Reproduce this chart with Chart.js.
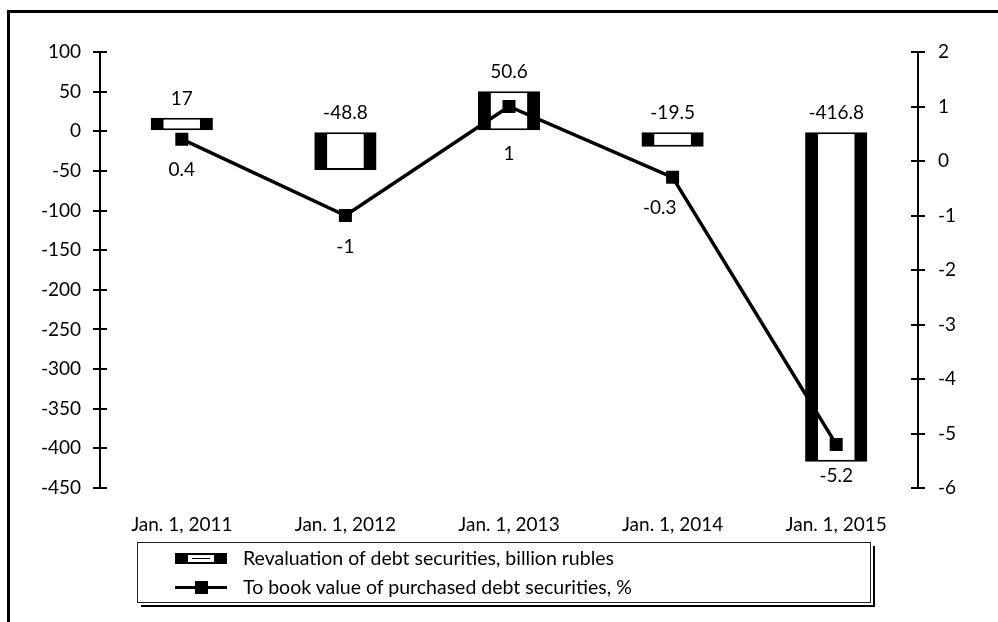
<!DOCTYPE html>
<html>
<head>
<meta charset="utf-8">
<script src="https://cdn.jsdelivr.net/npm/chart.js@4.4.1/dist/chart.umd.min.js"></script>
<style>
  html, body { margin: 0; padding: 0; background: #fff; }
  body { width: 998px; height: 622px; position: relative; overflow: hidden; font-family: Lato, sans-serif; }
  #frame { position: absolute; left: 7px; top: 10px; width: 1100px; height: 700px;
           border-left: 3px solid #000; border-top: 3px solid #000; box-sizing: border-box; }
  #wrap { position: absolute; left: 0; top: 0; width: 998px; height: 622px; }
  #legend { position: absolute; left: 137px; top: 542px; width: 734px; height: 61px; box-sizing: border-box;
            border: 1.5px solid #222; background: #fff;
            box-shadow: 2px 2px 0 0 #fff, 4px 4px 0 0 #000; }
  .item { position: absolute; left: 0; height: 24px; width: 100%; }
  .item .txt { position: absolute; left: 105px; top: 0; font-size: 19.5px; line-height: 24px; color: #000; white-space: nowrap; }
  .sw { position: absolute; left: 37px; }
  .sw-bar { top: 7px; width: 52px; height: 11px; background: #000; }
  .sw-bar::after { content: ""; position: absolute; left: 13px; top: 2px; width: 26px; height: 7px; background: #fff; }
  .sw-bar::before { content: ""; position: absolute; left: 17px; top: 5px; width: 18px; height: 1px; background: #000; z-index: 2; }
  .sw-line { top: 11px; width: 52px; height: 3px; background: #000; }
  .sw-line::after { content: ""; position: absolute; left: 20px; top: -5px; width: 13px; height: 13px; background: #000; }
</style>
</head>
<body>
<div id="frame"></div>
<div id="wrap"><canvas id="c"></canvas></div>
<div id="legend">
  <div class="item" style="top:3px"><div class="sw sw-bar"></div><div class="txt" id="lg0"></div></div>
  <div class="item" style="top:32px"><div class="sw sw-line"></div><div class="txt" id="lg1"></div></div>
</div>
<script>
const categories = ['Jan. 1, 2011', 'Jan. 1, 2012', 'Jan. 1, 2013', 'Jan. 1, 2014', 'Jan. 1, 2015'];
const revaluation = [17, -48.8, 50.6, -19.5, -416.8];
const bookValuePct = [0.4, -1, 1, -0.3, -5.2];
const seriesLabels = ['Revaluation of debt securities, billion rubles', 'To book value of purchased debt securities, %'];
const leftAxisRange = [-450, 100];
const leftAxisStep = 50;
const rightAxisRange = [-6, 2];
const rightAxisStep = 1;

document.getElementById('lg0').textContent = seriesLabels[0];
document.getElementById('lg1').textContent = seriesLabels[1];

const FONT = { family: 'Lato, sans-serif', size: 19 };

const innerTicks = {
  id: 'innerTicks',
  afterDraw(chart) {
    const ctx = chart.ctx;
    ctx.save();
    ctx.strokeStyle = '#000';
    ctx.lineWidth = 2;
    ['y', 'y1'].forEach(id => {
      const s = chart.scales[id];
      const x = id === 'y' ? s.right : s.left;
      const dx = id === 'y' ? 7 : -7;
      s.ticks.forEach(t => {
        const y = Math.round(s.getPixelForValue(t.value));
        ctx.beginPath();
        ctx.moveTo(x, y);
        ctx.lineTo(x + dx, y);
        ctx.stroke();
      });
    });
    ctx.restore();
  }
};

const valueLabels = {
  id: 'valueLabels',
  afterDatasetsDraw(chart) {
    const ctx = chart.ctx;
    const bars = chart.getDatasetMeta(0).data;
    const pts = chart.getDatasetMeta(1).data;
    ctx.save();
    ctx.fillStyle = '#000';
    ctx.font = FONT.size + 'px ' + FONT.family;
    ctx.textAlign = 'center';
    ctx.textBaseline = 'middle';
    bars.forEach((b, i) => {
      const top = Math.min(b.y, b.base);
      ctx.fillText(String(revaluation[i]), b.x, top - 19);
    });
    pts.forEach((p, i) => {
      const b = bars[i];
      const top = Math.min(b.y, b.base), bot = Math.max(b.y, b.base);
      const txt = String(bookValuePct[i]);
      const hw = ctx.measureText(txt).width / 2;
      let y = p.y + 31;
      if (y - 9 < bot && y + 9 > top) y = bot + 24;
      let x = p.x;
      const nxt = pts[i + 1];
      if (nxt && nxt.y > p.y) {
        const lx = p.x + (y - p.y) / (nxt.y - p.y) * (nxt.x - p.x);
        if (lx < x + hw + 4 && lx > x - hw - 4) x = lx - hw - 15;
      }
      ctx.fillText(txt, x, y);
    });
    ctx.restore();
  }
};

new Chart(document.getElementById('c'), {
  data: {
    labels: categories,
    datasets: [
      {
        type: 'bar',
        label: seriesLabels[0],
        data: revaluation,
        yAxisID: 'y',
        backgroundColor: '#fff',
        borderColor: '#000',
        borderWidth: { left: 13, right: 13, top: 2, bottom: 2 },
        borderSkipped: false,
        barPercentage: 0.38,
        categoryPercentage: 1,
        order: 2
      },
      {
        type: 'line',
        label: seriesLabels[1],
        data: bookValuePct,
        yAxisID: 'y1',
        borderColor: '#000',
        borderWidth: 3.5,
        backgroundColor: '#000',
        pointStyle: 'rect',
        pointRadius: 9.2,
        pointBackgroundColor: '#000',
        pointBorderColor: '#000',
        pointBorderWidth: 0,
        tension: 0,
        order: 1
      }
    ]
  },
  options: {
    responsive: true,
    maintainAspectRatio: false,
    animation: false,
    layout: { padding: { left: 10, top: 52, right: 0, bottom: 0 } },
    plugins: { legend: { display: false }, tooltip: { enabled: false } },
    scales: {
      x: {
        grid: { display: false, drawTicks: false },
        border: { display: false },
        ticks: { color: '#000', font: FONT, padding: 25, maxRotation: 0 },
        afterFit(s) { s.height = 134; }
      },
      y: {
        position: 'left',
        min: leftAxisRange[0], max: leftAxisRange[1],
        ticks: { stepSize: leftAxisStep, color: '#000', font: FONT, padding: 12 },
        grid: { drawOnChartArea: false, color: '#000', lineWidth: 2, tickLength: 7 },
        border: { color: '#000', width: 2 },
        afterFit(s) { s.width = 90; }
      },
      y1: {
        position: 'right',
        min: rightAxisRange[0], max: rightAxisRange[1],
        ticks: { stepSize: rightAxisStep, color: '#000', font: FONT, padding: 13 },
        grid: { drawOnChartArea: false, color: '#000', lineWidth: 2, tickLength: 7 },
        border: { color: '#000', width: 2 },
        afterFit(s) { s.width = 80; }
      }
    }
  },
  plugins: [innerTicks, valueLabels]
});
</script>
</body>
</html>
